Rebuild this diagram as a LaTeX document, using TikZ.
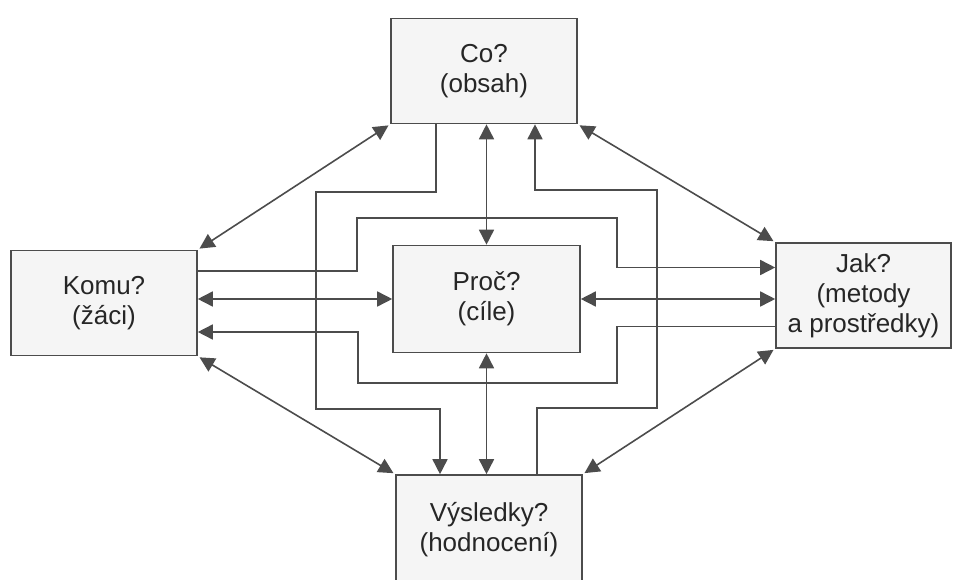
\documentclass[tikz,border=0pt]{standalone}
\usepackage{fontspec}
\setmainfont{Liberation Sans}
\usetikzlibrary{arrows.meta}
\usetikzlibrary{calc}

\begin{document}
\begin{tikzpicture}[
  x=1pt, y=-1pt,
  > = {Triangle[length=15pt,width=15pt]},
  box/.style = {draw=black!70, fill=black!4, line width=1.6pt, minimum width=186pt, minimum height=105pt, inner sep=0pt, align=center, font=\fontsize{26}{30}\selectfont, text=black!85},
  link/.style = {draw=black!70, line width=1.6pt},
  diag/.style = {link, <->, shorten <=2pt, shorten >=2pt}
  ]
	\path[use as bounding box, clip] (0,0) rectangle (953,580);

	\node[box] (co) at (484,71) {Co?\\(obsah)};
	\node[box] (komu) at (104,303) {Komu?\\(žáci)};
	\node[box, minimum width=187pt, minimum height=107pt] (proc) at (486.5,299) {Proč?\\(cíle)};
	\node[box, minimum width=175pt] (jak) at (863.5,295.5) {Jak?\\(metody\\a prostředky)};
	\node[box, minimum height=110pt] (vysl) at (489,530) {Výsledky?\\(hodnocení)};

	% corners
	\draw[diag] (co.south west) to (komu.north east);
	\draw[diag] (co.south east) to (jak.north west);
	\draw[diag] (komu.south east) to (vysl.north west);
	\draw[diag] (jak.south west) to (vysl.north east);

	% straight through the middle
	\draw[link,<->] (proc.north |- co.south) to (proc.north);
	\draw[link,<->] (proc.south) to (proc.south |- vysl.north);
	\draw[link,<->] (komu.east |- proc.west) to (proc.west);
	\draw[link,<->] (proc.east) to (proc.east -| jak.west);

	% round the middle
	\draw[link,->] ([xshift=-48pt]co.south) |- (316,192) -- (316,409) -| ([xshift=-49pt]vysl.north);
	\draw[link,->] ([xshift=48pt]vysl.north) |- (657,408) -- (657,190) -| ([xshift=51pt]co.south);
	\draw[link,->] ([yshift=32pt]komu.east) -| (357,218) -- (617,218) |- ([yshift=28pt]jak.west);
	\draw[link,->] ([yshift=-31pt]jak.west) -| (617,383) -- (358,383) |- ([yshift=-29pt]komu.east);

\end{tikzpicture}
\end{document}
